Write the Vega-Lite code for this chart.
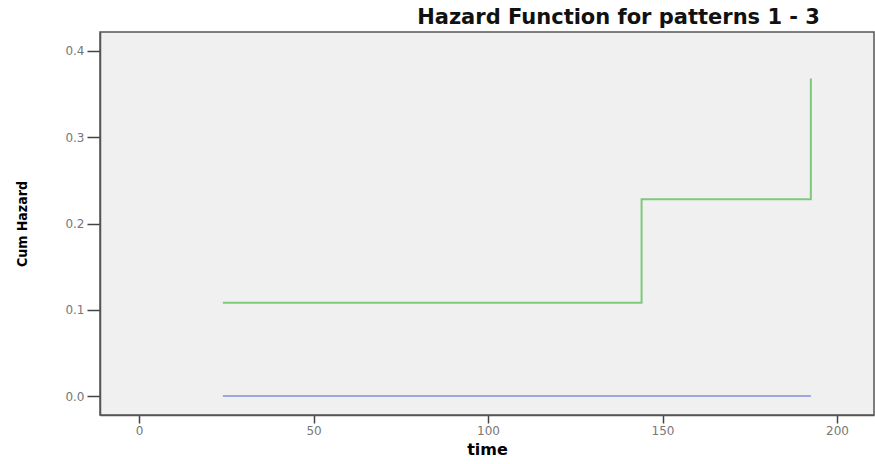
{
  "$schema": "https://vega.github.io/schema/vega-lite/v6.json",
  "width": 774,
  "height": 383,
  "autosize": {"type": "none"},
  "padding": {"left": 100, "top": 32, "right": 1, "bottom": 49},
  "background": "#ffffff",
  "title": {
    "text": "Hazard Function for patterns 1 - 3",
    "anchor": "end",
    "dx": -54,
    "dy": 21,
    "offset": 8,
    "baseline": "alphabetic",
    "font": "DejaVu Sans",
    "fontSize": 21,
    "fontWeight": "bold",
    "color": "#111111"
  },
  "config": {
    "view": {"fill": "#f0f0f0", "stroke": "#555555", "strokeWidth": 1.5},
    "axis": {
      "grid": false,
      "domainColor": "#555555",
      "domainWidth": 1.5,
      "tickColor": "#444444",
      "tickWidth": 1.5,
      "labelColor": "#777777",
      "labelFont": "DejaVu Sans",
      "labelFontSize": 12,
      "titleColor": "#000000",
      "titleFontWeight": "bold"
    }
  },
  "data": {
    "values": [
      {"time": 24, "hazard": 0.0, "pattern": "1"},
      {"time": 144, "hazard": 0.0, "pattern": "1"},
      {"time": 192.5, "hazard": 0.0, "pattern": "1"},
      {"time": 24, "hazard": 0.108, "pattern": "2"},
      {"time": 144, "hazard": 0.228, "pattern": "2"},
      {"time": 192.5, "hazard": 0.368, "pattern": "2"}
    ]
  },
  "mark": {"type": "line", "interpolate": "step-after", "strokeWidth": 2},
  "encoding": {
    "x": {
      "field": "time",
      "type": "quantitative",
      "scale": {"domain": [-11.2, 210.6], "nice": false, "zero": false},
      "axis": {
        "values": [0, 50, 100, 150, 200],
        "format": "d",
        "tickSize": 8,
        "labelPadding": 2,
        "title": "time",
        "titleFont": "DejaVu Sans",
        "titleFontSize": 16,
        "titlePadding": 5
      }
    },
    "y": {
      "field": "hazard",
      "type": "quantitative",
      "scale": {"domain": [-0.022, 0.422], "nice": false, "zero": false},
      "axis": {
        "values": [0, 0.1, 0.2, 0.3, 0.4],
        "format": ".1f",
        "tickSize": 13,
        "labelPadding": 3,
        "title": "Cum Hazard",
        "titleFont": "DejaVu Sans Condensed",
        "titleFontSize": 14,
        "titlePadding": 35
      }
    },
    "color": {
      "field": "pattern",
      "type": "nominal",
      "scale": {"domain": ["1", "2"], "range": ["#9ca8de", "#7dc97a"]},
      "legend": null
    }
  }
}
